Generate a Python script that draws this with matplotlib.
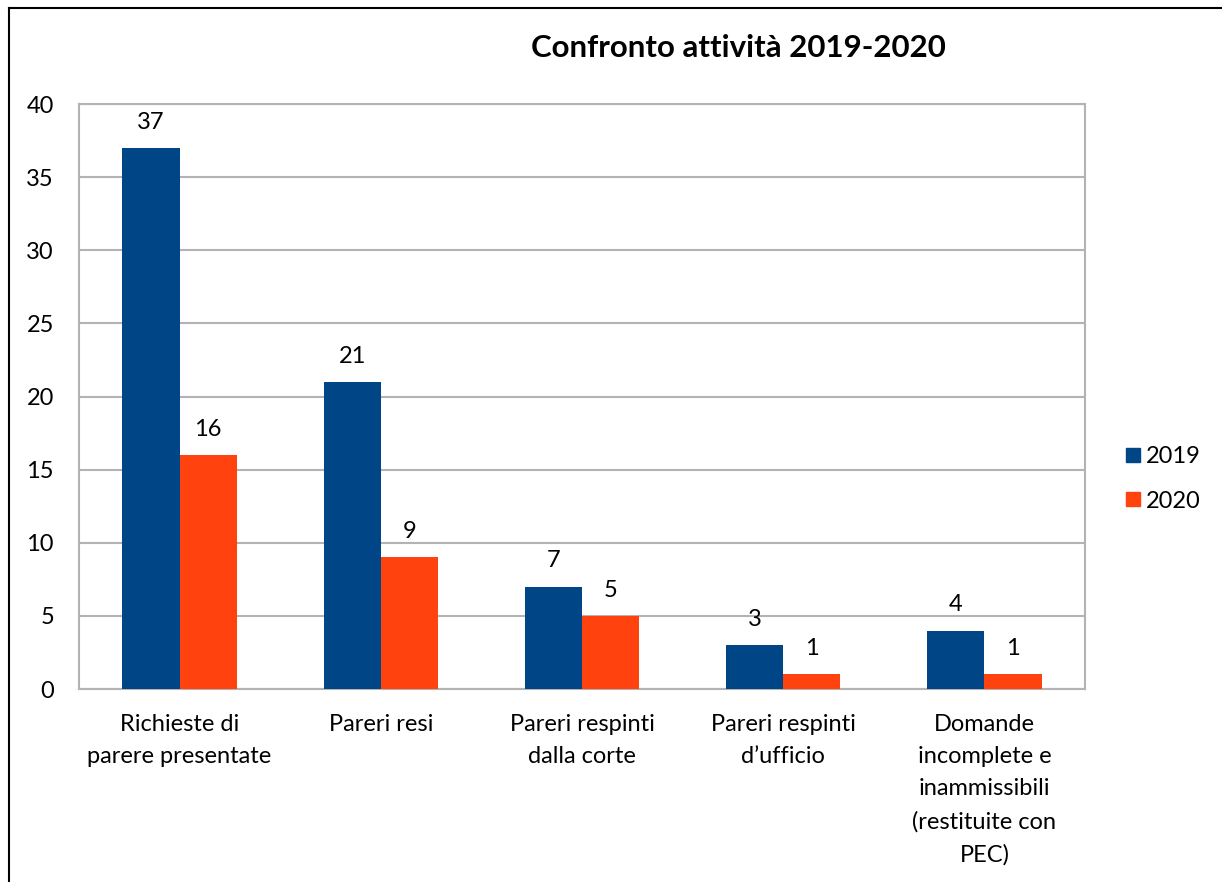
import numpy as np
import matplotlib.pyplot as plt
from matplotlib.lines import Line2D

plt.rcParams['font.family'] = ['Lato', 'DejaVu Sans']

categories = ['Richieste di\nparere presentate', 'Pareri resi',
              'Pareri respinti\ndalla corte', 'Pareri respinti\nd\u2019ufficio',
              'Domande\nincomplete e\ninammissibili\n(restituite con\nPEC)']
vals_2019 = [37, 21, 7, 3, 4]
vals_2020 = [16, 9, 5, 1, 1]
series_names = ['2019', '2020']
yticks = [0, 5, 10, 15, 20, 25, 30, 35, 40]

c19 = '#004586'
c20 = '#ff420e'
grid_c = '#b3b3b3'

fig = plt.figure(figsize=(12.22, 8.82), dpi=100)
ax = fig.add_axes([0.0646, 0.2188, 0.8233, 0.6632])

x = np.arange(len(categories))
w = 0.284
b1 = ax.bar(x - w / 2, vals_2019, w, color=c19, label=series_names[0], zorder=3)
b2 = ax.bar(x + w / 2, vals_2020, w, color=c20, label=series_names[1], zorder=3)
for bars in (b1, b2):
    ax.bar_label(bars, padding=11, fontsize=17)

ax.set_xlim(-0.5, len(categories) - 0.5)
ax.set_ylim(0, 40)
ax.set_yticks(yticks)
ax.yaxis.grid(True, color=grid_c, linewidth=1.5, zorder=0)
ax.set_axisbelow(True)
for s in ax.spines.values():
    s.set_color(grid_c)
    s.set_linewidth(1.5)
ax.tick_params(axis='both', length=0, labelsize=17)
ax.tick_params(axis='y', pad=18)
ax.tick_params(axis='x', pad=18)
ax.set_xticks(x)
ax.set_xticklabels(categories, linespacing=1.66, va='top')

fig.text(0.604, 0.946, 'Confronto attività 2019-2020', ha='center', va='center',
         fontsize=22.5, fontweight='bold')

handles = [Line2D([], [], marker='s', linestyle='none', markersize=10, color=c)
           for c in (c19, c20)]
fig.legend(handles, series_names, loc='center left', bbox_to_anchor=(0.903, 0.457),
           frameon=False, fontsize=17, handletextpad=0.2, labelspacing=1.0,
           handlelength=0.7)

# outer frame (left and top edges visible)
fig.add_artist(Line2D([0.0074, 0.0074], [0, 0.991], color='black', lw=1.5,
                      transform=fig.transFigure))
fig.add_artist(Line2D([0.0074, 1.0], [0.991, 0.991], color='black', lw=1.5,
                      transform=fig.transFigure))

fig.savefig('out.png', dpi=100)
